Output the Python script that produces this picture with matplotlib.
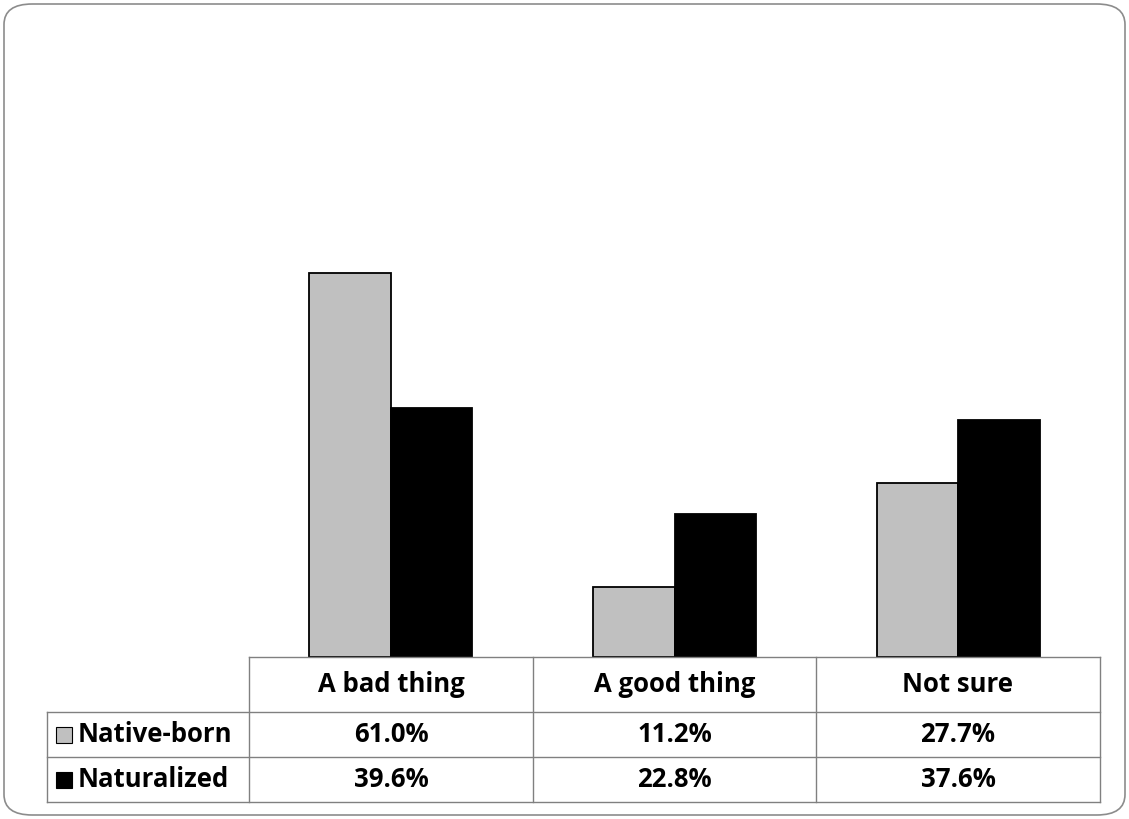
import matplotlib.pyplot as plt
import numpy as np
from matplotlib.patches import FancyBboxPatch, Rectangle

categories = ['A bad thing', 'A good thing', 'Not sure']
series = ['Native-born', 'Naturalized']
native_born = [61.0, 11.2, 27.7]
naturalized = [39.6, 22.8, 37.6]
colors = ['#C0C0C0', '#000000']

W, H = 1129, 819
fig = plt.figure(figsize=(W / 100, H / 100), dpi=100)
plt.rcParams['font.family'] = ['Open Sans', 'DejaVu Sans']


def fx(x):
    return x / W


def fy(y):
    return 1 - y / H


# rounded outer frame
fig.patches.append(FancyBboxPatch((fx(4), fy(815)), fx(1121), 811 / H,
                                  boxstyle='round,pad=0,rounding_size=0.025',
                                  transform=fig.transFigure, fill=False,
                                  edgecolor='#8c8c8c', linewidth=1.2))

# plot area
left, right, top, base = 249, 1100, 28, 657
ax = fig.add_axes([fx(left), fy(base), fx(right - left), (base - top) / H])
x = np.arange(len(categories))
w = 0.287
ax.bar(x - w / 2, native_born, w, color=colors[0], edgecolor='black', linewidth=1.3)
ax.bar(x + w / 2, naturalized, w, color=colors[1], edgecolor='black', linewidth=1.3)
ax.set_xlim(-0.5, 2.5)
ax.set_ylim(0, 100)
ax.axis('off')

# data table
grid = '#808080'
col_x = [left, 533, 816, right]
row_y = [base, 712, 757, 802]
lab_left = 47
lw = 1.0

def hline(y, x0, x1):
    fig.add_artist(plt.Line2D([fx(x0), fx(x1)], [fy(y), fy(y)], color=grid, lw=lw))

def vline(x, y0, y1):
    fig.add_artist(plt.Line2D([fx(x), fx(x)], [fy(y0), fy(y1)], color=grid, lw=lw))

hline(row_y[0], left, right)
for y in row_y[1:]:
    hline(y, lab_left, right)
vline(lab_left, row_y[1], row_y[3])
for cx in col_x:
    vline(cx, row_y[0], row_y[3])

fs = 18.5
for i, c in enumerate(categories):
    cx = (col_x[i] + col_x[i + 1]) / 2
    fig.text(fx(cx), fy((row_y[0] + row_y[1]) / 2), c, ha='center', va='center',
             fontsize=fs, fontweight='bold')
    for r, vals in enumerate([native_born, naturalized]):
        fig.text(fx(cx), fy((row_y[r + 1] + row_y[r + 2]) / 2), f'{vals[i]:.1f}%',
                 ha='center', va='center', fontsize=fs, fontweight='bold')

for r, name in enumerate(series):
    cy = (row_y[r + 1] + row_y[r + 2]) / 2
    s = 16
    fig.patches.append(Rectangle((fx(56), fy(cy + s / 2)), s / W, s / H,
                                 transform=fig.transFigure, facecolor=colors[r],
                                 edgecolor='black', linewidth=0.8))
    fig.text(fx(78), fy(cy), name, ha='left', va='center', fontsize=fs,
             fontweight='bold')

fig.savefig('out.png', dpi=100)
